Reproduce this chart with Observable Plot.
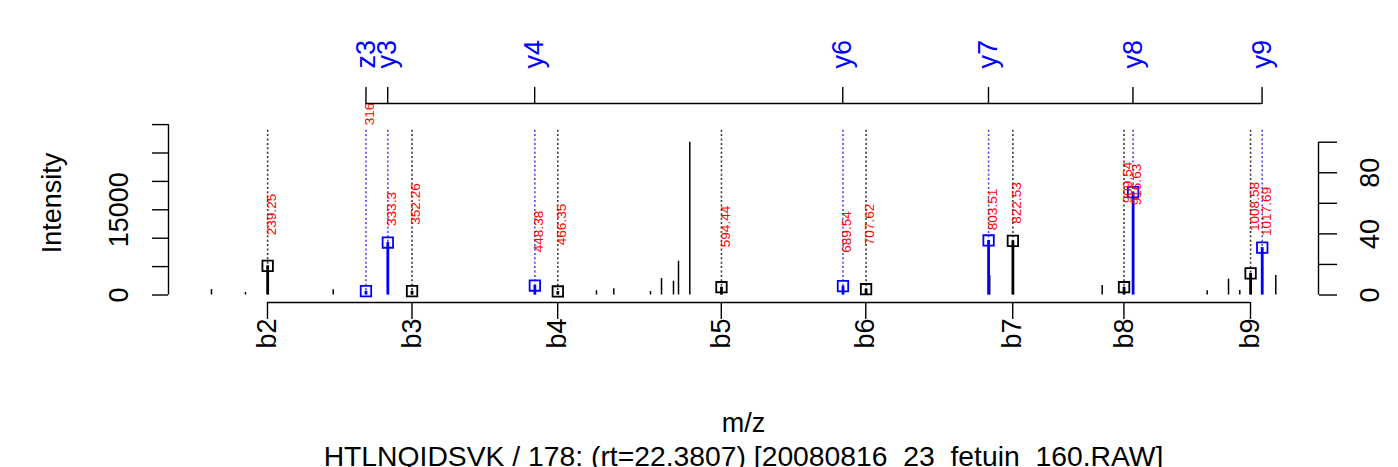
<!DOCTYPE html>
<html><head><meta charset="utf-8">
<script src="https://cdn.jsdelivr.net/npm/d3@7"></script>
<script src="https://cdn.jsdelivr.net/npm/@observablehq/plot@0.6"></script>
<style>html,body{margin:0;padding:0;background:#fff;overflow:hidden} svg{display:block}</style>
</head><body><div id="chart"></div>
<script>
// ---- unmatched peaks (m/z, intensity) ----
const peakMz = [195.28, 221.89, 290.54, 496.62, 510.17, 538.89, 547.50, 556.89, 560.80, 569.65, 804.40, 892.43, 974.60, 991.30, 1000.12, 1028.30];
const peakIntensity = [970, 440, 915, 740, 1090, 616, 2905, 2430, 5950, 26900, 3430, 1673, 740, 2780, 790, 3430];

// ---- matched fragment ions ----
const ionName = ["b2", "z3", "y3", "b3", "y4", "b4", "b5", "y6", "b6", "y7", "b7", "b8", "y8", "b9", "y9"];
const ionMz = [239.25, 316.18, 333.3, 352.26, 448.38, 466.35, 594.44, 689.54, 707.62, 803.51, 822.53, 909.54, 916.63, 1008.58, 1017.69];
const ionIntensity = [5140, 670, 9240, 670, 1670, 620, 1370, 1550, 1020, 9600, 9540, 1370, 18100, 3800, 8350];
const ionLabelY = [14170, 33540, 15140, 16020, 11180, 12410, 12060, 11090, 12410, 15050, 16200, 19810, 19450, 15580, 14700];
const guideTop = 29400;

// ---- axes ----
const bTickMz = [239.11, 352.20, 466.24, 594.30, 707.38, 822.41, 909.44, 1008.51];
const bTickLabels = ["b2", "b3", "b4", "b5", "b6", "b7", "b8", "b9"];
const xyzTickMz = [316.19, 333.21, 448.24, 689.38, 803.43, 916.51, 1017.56];
const xyzTickLabels = ["z3", "y3", "y4", "y6", "y7", "y8", "y9"];
const intensityTicks = [0, 5000, 10000, 15000, 20000, 25000, 30000];
const intensityTickLabels = [0, 15000];
const relTicks = [0, 20, 40, 60, 80, 100];
const relTickLabels = [0, 40, 80];

const xDomain = [161.63, 1061.73];
const yDomain = [-1320, 33715];

const title = "HTLNQIDSVK / 178: (rt=22.3807) [20080816_23_fetuin_160.RAW]";

const peaks = peakMz.map((mz, i) => ({mz, intensity: peakIntensity[i]}));
const ions = ionName.map((name, i) => ({
  name, mz: ionMz[i], intensity: ionIntensity[i], labelY: ionLabelY[i],
  kind: name[0] === "b" ? "abc" : "xyz"
}));
const ionColor = d => d.kind === "abc" ? "#000000" : "#0000ff";
const guideColor = d => d.kind === "abc" ? "#3a3a3a" : "#4a4aff";
const maxI = d3.max(peakIntensity);
const relToI = r => r / 100 * maxI;

const FONT = "'Liberation Sans', Arial, Helvetica, sans-serif";

const chart = Plot.plot({
  width: 1398, height: 467,
  marginLeft: 168, marginRight: 80, marginTop: 103, marginBottom: 165,
  x: {domain: xDomain, axis: null},
  y: {domain: yDomain, axis: null},
  style: {fontFamily: FONT, background: "#ffffff", color: "#000"},
  marks: [
    // dotted guide lines for matched ions
    Plot.ruleX(ions, {x: "mz", y1: 0, y2: guideTop, stroke: guideColor, strokeWidth: 1.6, strokeDasharray: "2 2.4"}),
    // raw spectrum peaks
    Plot.ruleX(peaks, {x: "mz", y1: 0, y2: "intensity", stroke: "#000", strokeWidth: 1.5}),
    // matched peaks
    Plot.ruleX(ions, {x: "mz", y1: 0, y2: "intensity", stroke: ionColor, strokeWidth: 2.8}),
    Plot.dot(ions, {x: "mz", y: "intensity", symbol: "square", r: 5.9, stroke: ionColor, fill: "none", strokeWidth: 1.8}),
    // m/z labels
    Plot.text(ions, {x: "mz", y: "labelY", text: d => String(d.mz), rotate: -90, textAnchor: "middle", lineAnchor: "middle",
      dx: 4, fill: "#ff0000", fontSize: 13.6, clip: true}),

    // bottom axis (b ions)
    Plot.ruleY([yDomain[0]], {x1: d3.min(bTickMz), x2: d3.max(bTickMz), stroke: "#000", strokeWidth: 1.4}),
    Plot.axisX(bTickMz, {anchor: "bottom", tickSize: 17, tickFormat: () => "", strokeWidth: 1.4, label: null}),
    Plot.text(bTickMz, {x: d => d, text: (d, i) => bTickLabels[i], frameAnchor: "bottom", dy: 16, rotate: -90,
      textAnchor: "end", lineAnchor: "middle", fontSize: 27, fill: "#000"}),

    // top axis (y/z ions)
    Plot.ruleY([yDomain[1]], {x1: d3.min(xyzTickMz), x2: d3.max(xyzTickMz), stroke: "#000", strokeWidth: 1.4}),
    Plot.axisX(xyzTickMz, {anchor: "top", tickSize: 17, tickFormat: () => "", strokeWidth: 1.4, label: null}),
    Plot.text(xyzTickMz, {x: d => d, text: (d, i) => xyzTickLabels[i], frameAnchor: "top", dy: -35, rotate: -90,
      textAnchor: "start", lineAnchor: "middle", fontSize: 27, fill: "#0000ff"}),

    // left axis (intensity)
    Plot.ruleX([xDomain[0]], {y1: d3.min(intensityTicks), y2: d3.max(intensityTicks), stroke: "#000", strokeWidth: 1.4}),
    Plot.axisY(intensityTicks, {anchor: "left", tickSize: 16, tickFormat: () => "", strokeWidth: 1.4, label: null}),
    Plot.text(intensityTickLabels, {y: d => d, text: d => String(d), frameAnchor: "left", dx: -49.5, rotate: -90,
      textAnchor: "middle", lineAnchor: "middle", fontSize: 27, fill: "#000"}),
    Plot.text(["Intensity"], {frameAnchor: "left", dx: -116, rotate: -90, textAnchor: "middle", lineAnchor: "middle", fontSize: 27, fill: "#000"}),

    // right axis (relative %)
    Plot.ruleX([xDomain[1]], {y1: 0, y2: maxI, stroke: "#000", strokeWidth: 1.4}),
    Plot.axisY(relTicks.map(relToI), {anchor: "right", tickSize: 18, tickFormat: () => "", strokeWidth: 1.4, label: null}),
    Plot.text(relTickLabels, {y: d => relToI(d), text: d => String(d), frameAnchor: "right", dx: 52, rotate: -90,
      textAnchor: "middle", lineAnchor: "middle", fontSize: 27, fill: "#000"}),

    // x label and subtitle
    Plot.text(["m/z"], {frameAnchor: "bottom", dy: 121, textAnchor: "middle", lineAnchor: "middle", fontSize: 27, fill: "#000"}),
    Plot.text([title], {frameAnchor: "bottom", dy: 154, textAnchor: "middle", lineAnchor: "middle", fontSize: 28.3, fill: "#000"})
  ]
});
document.getElementById("chart").appendChild(chart);
</script>
</body></html>
